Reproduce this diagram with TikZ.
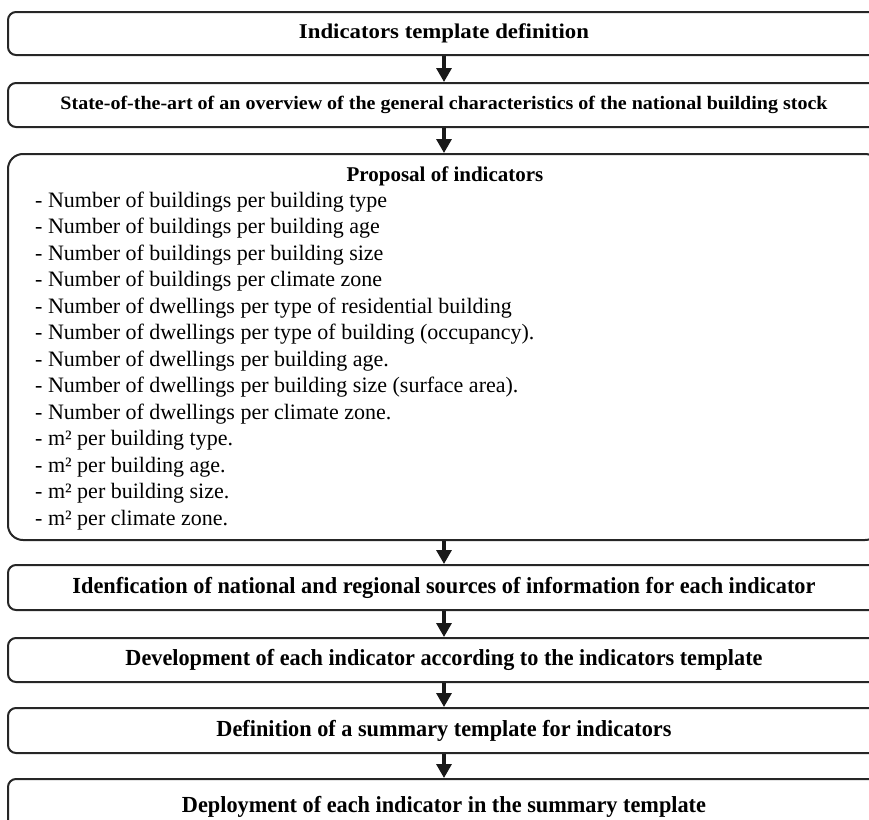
\documentclass[tikz,border=0pt]{standalone}
\usepackage{fontspec}
\setmainfont{Liberation Serif}
\usepackage{graphicx}
\usetikzlibrary{arrows.meta}

% squeeze a line of text to a given width, keeping its height
\newcommand{\fitw}[2]{\resizebox{#1}{\height}{#2}}

\begin{document}
\begin{tikzpicture}[x=1pt, y=-1pt,
    stepbox/.style={rectangle, draw=black!85, line width=2pt, rounded corners=8pt, minimum width=872pt, minimum height=44pt, inner sep=0pt, align=center},
    steptext/.style={font=\fontsize{23}{26}\selectfont\bfseries},
    itemline/.style={anchor=base west, inner sep=0pt, font=\fontsize{22}{26}\selectfont},
    flow/.style={-{Triangle[width=15pt, length=14pt]}, line width=3.2pt, black!90}
]
    \useasboundingbox (0,0) rectangle (869,819);

    % Template and state of the art
    \node[stepbox, minimum height=43pt, font=\fontsize{21}{24}\selectfont\bfseries] (b1) at (444,33.5) {\fitw{290pt}{Indicators template definition}};
    \node[stepbox, font=\fontsize{19}{24}\selectfont\bfseries] (b2) at (444,105) {\fitw{767pt}{State-of-the-art of an overview of the general characteristics of the national building stock}};

    % Proposal of indicators
    \node[stepbox, rounded corners=15pt, minimum height=386pt] (b3) at (444,347) {};
    \node[anchor=base, inner sep=0pt, font=\fontsize{21}{24}\selectfont\bfseries] (p0) at (445,181) {Proposal of indicators};
    \node[itemline] (i1) at (35,207) {- Number of buildings per building type};
    \node[itemline] (i2) at (35,233.5) {- Number of buildings per building age};
    \node[itemline] (i3) at (35,260) {- Number of buildings per building size};
    \node[itemline] (i4) at (35,286.5) {- Number of buildings per climate zone};
    \node[itemline] (i5) at (35,313) {- Number of dwellings per type of residential building};
    \node[itemline] (i6) at (35,339.5) {- Number of dwellings per type of building (occupancy).};
    \node[itemline] (i7) at (35,366) {- Number of dwellings per building age.};
    \node[itemline] (i8) at (35,392.5) {- Number of dwellings per building size (surface area).};
    \node[itemline] (i9) at (35,419) {- Number of dwellings per climate zone.};
    \node[itemline] (i10) at (35,445.5) {- m² per building type.};
    \node[itemline] (i11) at (35,472) {- m² per building age.};
    \node[itemline] (i12) at (35,498.5) {- m² per building size.};
    \node[itemline] (i13) at (35,525) {- m² per climate zone.};

    % Sources, development, summary
    \node[stepbox, steptext, minimum height=45pt] (b4) at (444,587.5) {\fitw{743pt}{Idenfication of national and regional sources of information for each indicator}};
    \node[stepbox, steptext] (b5) at (444,660) {\fitw{637pt}{Development of each indicator according to the indicators template}};
    \node[stepbox, steptext, minimum height=45pt] (b6) at (444,730.5) {\fitw{455pt}{Definition of a summary template for indicators}};
    \node[stepbox, steptext, minimum height=56pt] (b7) at (444,807) {\fitw{524pt}{Deployment of each indicator in the summary template}};

    % Arrows
    \draw[flow] (b1.south) -- (b2.north);
    \draw[flow] (b2.south) -- (b3.north);
    \draw[flow] (b3.south) -- (b4.north);
    \draw[flow] (b4.south) -- (b5.north);
    \draw[flow] (b5.south) -- (b6.north);
    \draw[flow] (b6.south) -- (b7.north);
\end{tikzpicture}
\end{document}
